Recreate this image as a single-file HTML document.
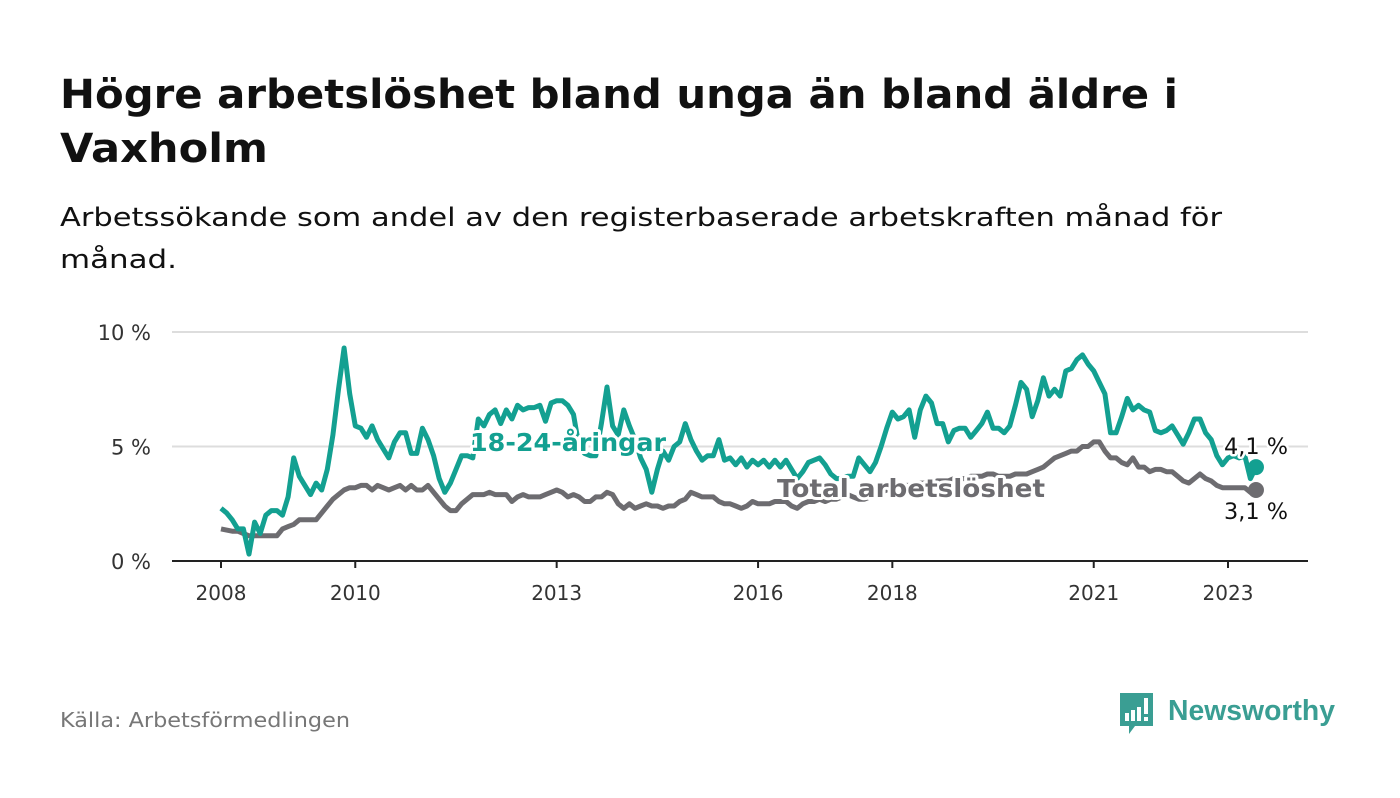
<!DOCTYPE html>
<html><head><meta charset="utf-8"><style>
body{margin:0;background:#fff;width:1400px;height:794px;overflow:hidden;font-family:"DejaVu Sans","Liberation Sans",sans-serif}
</style></head><body>
<svg id="chart" width="1400" height="794" xmlns="http://www.w3.org/2000/svg" font-family="DejaVu Sans, Liberation Sans, sans-serif">
<text x="60" y="108" font-size="40" font-weight="bold" fill="#111" textLength="1118" lengthAdjust="spacingAndGlyphs">Högre arbetslöshet bland unga än bland äldre i</text>
<text x="60" y="162" font-size="40" font-weight="bold" fill="#111" textLength="208" lengthAdjust="spacingAndGlyphs">Vaxholm</text>
<text x="60" y="226" font-size="26" fill="#111" textLength="1162" lengthAdjust="spacingAndGlyphs">Arbetssökande som andel av den registerbaserade arbetskraften månad för</text>
<text x="60" y="268" font-size="26" fill="#111" textLength="117" lengthAdjust="spacingAndGlyphs">månad.</text>
<g id="grid"></g>
<g id="series"></g>
<g id="labels"></g>
<text x="60" y="727" font-size="20" fill="#777" textLength="290" lengthAdjust="spacingAndGlyphs">Källa: Arbetsförmedlingen</text>
<g>
<path d="M1120 693 h33 v33 h-18 l-6 8 v-8 h-9 z" fill="#3a9e93"/>
<rect x="1125" y="713" width="4" height="8" fill="#fff"/>
<rect x="1131" y="710" width="4" height="11" fill="#fff"/>
<rect x="1137" y="707" width="4" height="14" fill="#fff"/>
<rect x="1144" y="698" width="4" height="16" fill="#fff"/>
<rect x="1144" y="717" width="4" height="4" fill="#fff"/>
<text x="1168" y="720" font-size="29" fill="#3a9e93" font-family="Liberation Sans, sans-serif" font-weight="bold" textLength="167" lengthAdjust="spacingAndGlyphs">Newsworthy</text>
</g>
</svg>
<script>
const yTicks=[0,5,10];
const xTickYears=[2008,2010,2013,2016,2018,2021,2023];
const startYear=2008;
const youth=[2.3,2.1,1.8,1.4,1.4,0.3,1.7,1.2,2.0,2.2,2.2,2.0,
2.8,4.5,3.7,3.3,2.9,3.4,3.1,4.0,5.5,7.5,9.3,7.3,
5.9,5.8,5.4,5.9,5.3,4.9,4.5,5.2,5.6,5.6,4.7,4.7,
5.8,5.3,4.6,3.6,3.0,3.4,4.0,4.6,4.6,4.5,6.2,5.9,
6.4,6.6,6.0,6.6,6.2,6.8,6.6,6.7,6.7,6.8,6.1,6.9,
7.0,7.0,6.8,6.4,5.0,4.7,4.6,4.6,6.0,7.6,5.9,5.5,
6.6,5.9,5.3,4.5,4.0,3.0,4.0,4.8,4.4,5.0,5.2,6.0,
5.3,4.8,4.4,4.6,4.6,5.3,4.4,4.5,4.2,4.5,4.1,4.4,
4.2,4.4,4.1,4.4,4.1,4.4,4.0,3.6,3.9,4.3,4.4,4.5,
4.2,3.8,3.6,3.6,3.7,3.7,4.5,4.2,3.9,4.3,5.0,5.8,
6.5,6.2,6.3,6.6,5.4,6.6,7.2,6.9,6.0,6.0,5.2,5.7,
5.8,5.8,5.4,5.7,6.0,6.5,5.8,5.8,5.6,5.9,6.8,7.8,
7.5,6.3,7.0,8.0,7.2,7.5,7.2,8.3,8.4,8.8,9.0,8.6,
8.3,7.8,7.3,5.6,5.6,6.3,7.1,6.6,6.8,6.6,6.5,5.7,
5.6,5.7,5.9,5.5,5.1,5.6,6.2,6.2,5.6,5.3,4.6,4.2,
4.5,4.6,4.5,4.6,3.6,4.1];
const total=[1.4,1.35,1.3,1.3,1.2,1.1,1.1,1.1,1.1,1.1,1.1,1.4,
1.5,1.6,1.8,1.8,1.8,1.8,2.1,2.4,2.7,2.9,3.1,3.2,
3.2,3.3,3.3,3.1,3.3,3.2,3.1,3.2,3.3,3.1,3.3,3.1,
3.1,3.3,3.0,2.7,2.4,2.2,2.2,2.5,2.7,2.9,2.9,2.9,
3.0,2.9,2.9,2.9,2.6,2.8,2.9,2.8,2.8,2.8,2.9,3.0,
3.1,3.0,2.8,2.9,2.8,2.6,2.6,2.8,2.8,3.0,2.9,2.5,
2.3,2.5,2.3,2.4,2.5,2.4,2.4,2.3,2.4,2.4,2.6,2.7,
3.0,2.9,2.8,2.8,2.8,2.6,2.5,2.5,2.4,2.3,2.4,2.6,
2.5,2.5,2.5,2.6,2.6,2.6,2.4,2.3,2.5,2.6,2.6,2.7,
2.6,2.7,2.7,2.8,2.9,2.8,2.7,2.7,2.8,2.9,3.0,3.1,
3.2,3.2,3.3,3.3,3.3,3.4,3.4,3.4,3.5,3.5,3.5,3.6,
3.6,3.6,3.7,3.7,3.7,3.8,3.8,3.7,3.7,3.7,3.8,3.8,
3.8,3.9,4.0,4.1,4.3,4.5,4.6,4.7,4.8,4.8,5.0,5.0,
5.2,5.2,4.8,4.5,4.5,4.3,4.2,4.5,4.1,4.1,3.9,4.0,
4.0,3.9,3.9,3.7,3.5,3.4,3.6,3.8,3.6,3.5,3.3,3.2,
3.2,3.2,3.2,3.2,3.0,3.1];
const NS="http://www.w3.org/2000/svg";
const x0=221,x1=1228,y0=561,y10=332;
function xScale(yr){return x0+(yr-2008)*(x1-x0)/15;}
function xMonth(i){return xScale(startYear+i/12);}
function yScale(v){return y0-(v/10)*(y0-y10);}
function mk(t,a,p){const e=document.createElementNS(NS,t);for(const k in a)e.setAttribute(k,a[k]);p.appendChild(e);return e;}
const grid=document.getElementById('grid');
yTicks.forEach(v=>{
 if(v>0){const l=mk('line',{x1:172,x2:1308,y1:yScale(v),y2:yScale(v),stroke:'#ddd','stroke-width':2},grid);
 
 }
 const t=mk('text',{x:151,y:yScale(v)+8,'font-size':21,fill:'#333','text-anchor':'end'},grid);
 t.textContent=v+' %';
 
 
});
const ax=mk('line',{x1:172,x2:1308,y1:y0,y2:y0,stroke:'#222','stroke-width':2},grid);


xTickYears.forEach(yr=>{
 const x=xScale(yr);
 const tk=mk('line',{x1:x,x2:x,y1:y0,y2:y0+7,stroke:'#222','stroke-width':2},grid);
 
 
 const t=mk('text',{x:x,y:600,'font-size':20,fill:'#333','text-anchor':'middle'},grid);
 t.textContent=yr;
 
 
});
const sg=document.getElementById('series');
function line(data,color,name){
 const d=data.map((v,i)=>(i?'L':'M')+xMonth(i).toFixed(1)+' '+yScale(v).toFixed(1)).join(' ');
 const p=mk('path',{d:d,fill:'none',stroke:color,'stroke-width':5,'stroke-linejoin':'round'},sg);
 
 
 const n=data.length-1;
 const c=mk('circle',{cx:xMonth(n),cy:yScale(data[n]),r:8,fill:color},sg);
 
 
}
line(total,'#6d6c70','total');
line(youth,'#13a091','youth');
const lg=document.getElementById('labels');
function lab(x,y,txt,color,name,bold,anchor,size,len){
 const t=mk('text',{x:x,y:y,'font-size':size,'font-weight':bold?'bold':'normal',fill:color,stroke:'#fff','stroke-width':bold?6:5,'paint-order':'stroke','stroke-linejoin':'round','text-anchor':anchor,textLength:len,lengthAdjust:'spacingAndGlyphs'},lg);
 t.textContent=txt;
 
 
}
lab(568,451,'18-24-åringar','#13a091','youth-series-label',true,'middle',25,196);
lab(911,497,'Total arbetslöshet','#6d6c70','total-series-label',true,'middle',25,268);
lab(1256,454,'4,1 %','#111','youth-end-value',false,'middle',22,64);
lab(1256,519,'3,1 %','#111','total-end-value',false,'middle',22,64);
</script>
</body></html>
